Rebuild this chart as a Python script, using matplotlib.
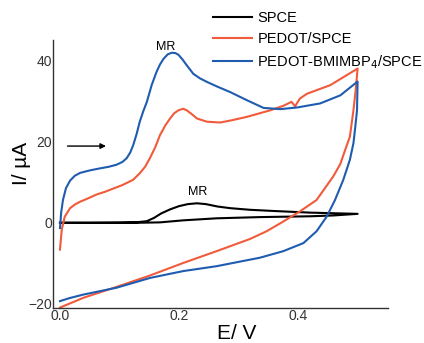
import matplotlib
matplotlib.use("Agg")
import matplotlib.pyplot as plt

plt.rcParams['font.family'] = ['Liberation Sans', 'DejaVu Sans']

# SPCE (black): forward then reverse scan
e_spce = [0.0, 0.05, 0.10, 0.13, 0.146, 0.158, 0.17, 0.185, 0.20, 0.215, 0.23, 0.245,
          0.265, 0.286, 0.319, 0.36, 0.42, 0.5,
          0.459, 0.42, 0.336, 0.263, 0.207, 0.168, 0.13, 0.05, 0.0]
i_spce = [0.0, 0.0, 0.05, 0.15, 0.4, 1.2, 2.3, 3.3, 4.1, 4.6, 4.8, 4.6,
          4.0, 3.6, 3.2, 2.9, 2.5, 2.2,
          1.8, 1.6, 1.4, 1.1, 0.6, 0.1, 0.0, 0.0, 0.0]

# PEDOT/SPCE (red)
e_pedot = [0.0, 0.003, 0.008, 0.017, 0.025, 0.034, 0.05, 0.062, 0.075, 0.089, 0.105,
           0.123, 0.134, 0.143, 0.151, 0.16, 0.168, 0.177, 0.185, 0.192, 0.199, 0.207,
           0.213, 0.222, 0.23, 0.247, 0.269, 0.29, 0.314, 0.353, 0.375, 0.389, 0.395,
           0.403, 0.415, 0.454, 0.5,
           0.497, 0.493, 0.487, 0.479, 0.471, 0.459, 0.431, 0.403, 0.375, 0.347, 0.319,
           0.263, 0.207, 0.151, 0.095, 0.039, 0.0]
i_pedot = [-6.6, -1.7, 1.5, 3.6, 4.5, 5.2, 6.2, 7.0, 7.6, 8.4, 9.3,
           10.6, 12.2, 13.8, 15.9, 18.6, 21.6, 24.0, 25.7, 27.0, 27.7, 28.1,
           27.7, 26.7, 25.7, 24.9, 24.7, 25.3, 26.1, 27.7, 28.8, 29.8, 28.7,
           30.6, 31.8, 33.9, 38.0,
           33.0, 27.7, 21.2, 17.9, 14.5, 11.4, 5.6, 2.8, 0.3, -2.1, -4.0,
           -7.0, -9.9, -13.0, -15.8, -18.5, -20.9]

# PEDOT-BMIMBP4/SPCE (blue)
e_blue = [0.0, 0.002, 0.005, 0.01, 0.017, 0.025, 0.034, 0.05, 0.067, 0.082, 0.095, 0.105,
          0.112, 0.118, 0.123, 0.129, 0.134, 0.14, 0.146, 0.154, 0.162, 0.168, 0.174,
          0.181, 0.188, 0.194, 0.199, 0.206, 0.213, 0.224, 0.235, 0.247, 0.265, 0.286,
          0.314, 0.342, 0.37, 0.398, 0.437, 0.471, 0.5,
          0.499, 0.496, 0.493, 0.487, 0.476, 0.462, 0.448, 0.431, 0.409, 0.375, 0.336,
          0.263, 0.207, 0.151, 0.095, 0.039, 0.015, 0.0]
i_blue = [-1.3, 2.5, 5.6, 8.5, 10.4, 11.6, 12.3, 12.9, 13.4, 13.8, 14.3, 15.0,
          15.9, 17.3, 19.1, 22.0, 24.9, 27.5, 29.8, 33.9, 37.1, 39.0, 40.4,
          41.5, 41.9, 41.8, 41.4, 40.2, 38.8, 36.7, 35.6, 34.7, 33.5, 32.2,
          30.2, 28.3, 28.0, 28.4, 29.4, 31.4, 34.8,
          27.7, 23.5, 19.6, 15.5, 10.6, 5.6, 1.5, -2.1, -5.0, -7.0, -8.6,
          -10.7, -11.9, -13.6, -16.0, -17.7, -18.6, -19.3]

labels = ["SPCE", "PEDOT/SPCE", "PEDOT-BMIMBP$_4$/SPCE"]
colors = ["black", "#f15a3a", "#1f5cb0"]

fig = plt.figure(figsize=(4.24, 3.43), dpi=100)
ax = fig.add_axes([0.126, 0.102, 0.789, 0.781])

ax.plot(e_spce, i_spce, color=colors[0], lw=1.5, label=labels[0])
ax.plot(e_pedot, i_pedot, color=colors[1], lw=1.5, label=labels[1])
ax.plot(e_blue, i_blue, color=colors[2], lw=1.5, label=labels[2])

ax.set_xlim(-0.011, 0.551)
ax.set_ylim(-21, 45)
ax.set_xticks([0.0, 0.2, 0.4])
ax.set_xticklabels(["0.0", "0.2", "0.4"])
ax.set_yticks([-20, 0, 20, 40])
ax.tick_params(length=0, pad=1, labelsize=10, labelcolor="#333333")
for s in ["top", "right"]:
    ax.spines[s].set_visible(False)
for s in ["left", "bottom"]:
    ax.spines[s].set_color("#333333")
    ax.spines[s].set_linewidth(1.0)

ax.set_xlabel("E/ V", fontsize=15)
ax.xaxis.set_label_coords(0.549, -0.06)
ax.set_ylabel("I/ \u00b5A", fontsize=15)
ax.yaxis.set_label_coords(-0.066, 0.54)

ax.text(0.178, 43.3, "MR", fontsize=9, ha="center", va="center")
ax.text(0.231, 7.6, "MR", fontsize=9, ha="center", va="center")
ax.annotate("", xy=(0.082, 18.9), xytext=(0.008, 18.9),
            arrowprops=dict(arrowstyle="-|>", color="black", lw=1.0,
                            mutation_scale=8))

ax.legend(loc="upper left", bbox_to_anchor=(0.502, 0.968), bbox_transform=fig.transFigure,
          frameon=False, fontsize=10.5, handlelength=2.7, handletextpad=0.35,
          borderpad=0, borderaxespad=0, labelspacing=0.5)

fig.savefig("out.png", dpi=100)
